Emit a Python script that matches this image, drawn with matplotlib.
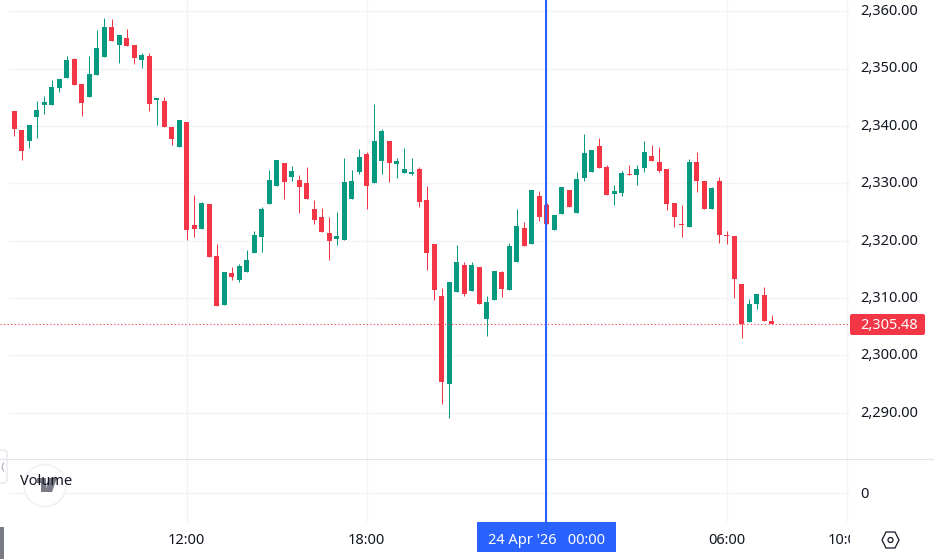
import matplotlib
matplotlib.use("Agg")
import matplotlib.pyplot as plt
from matplotlib.patches import Circle, FancyBboxPatch, Polygon, Rectangle

# 15 minute candles
opens = [2342.62, 2339.30, 2337.38, 2341.57, 2343.66, 2343.66, 2346.63, 2348.37, 2351.69, 2347.33,
         2345.06, 2348.90, 2352.03, 2357.27, 2354.13, 2355.35, 2354.13, 2351.51, 2352.21, 2344.53,
         2344.36, 2339.83, 2336.34, 2340.70, 2322.73, 2322.03, 2326.40, 2317.33, 2308.78, 2314.36,
         2313.14, 2314.53, 2317.85, 2320.64, 2326.40, 2329.53, 2333.55, 2331.10, 2330.58, 2330.06,
         2325.52, 2324.13, 2321.34, 2320.29, 2320.12, 2327.27, 2331.98, 2335.12, 2330.06, 2333.90,
         2337.38, 2333.37, 2331.80, 2331.63, 2332.50, 2327.09, 2319.42, 2310.35, 2295.00, 2311.05,
         2315.76, 2311.22, 2315.41, 2306.34, 2309.65, 2314.53, 2311.40, 2316.28, 2322.21, 2319.42,
         2327.79, 2326.22, 2321.86, 2324.65, 2328.84, 2324.83, 2330.93, 2331.98, 2336.51, 2332.85,
         2328.14, 2328.31, 2331.63, 2331.45, 2332.67, 2334.77, 2333.72, 2332.50, 2326.57, 2322.91,
         2322.38, 2333.72, 2330.41, 2325.52, 2330.41, 2320.99, 2320.81, 2312.44, 2305.81, 2308.95,
         2310.52, 2306.00]
closes = [2339.48, 2335.64, 2340.17, 2342.79, 2344.19, 2346.80, 2348.20, 2351.51, 2347.15, 2344.01,
          2349.07, 2353.60, 2357.27, 2354.83, 2355.87, 2353.95, 2351.86, 2352.38, 2343.84, 2344.88,
          2339.83, 2337.73, 2341.05, 2321.86, 2322.03, 2326.57, 2317.15, 2308.60, 2314.53, 2313.66,
          2315.58, 2316.63, 2320.99, 2325.52, 2330.58, 2334.07, 2330.23, 2332.15, 2329.36, 2327.27,
          2323.60, 2321.51, 2319.94, 2320.81, 2330.23, 2330.41, 2334.59, 2329.53, 2337.38, 2339.13,
          2333.55, 2333.90, 2332.50, 2331.98, 2326.74, 2317.85, 2311.40, 2295.35, 2312.79, 2316.28,
          2310.70, 2315.76, 2308.95, 2309.30, 2314.71, 2311.57, 2319.07, 2322.56, 2319.07, 2328.84,
          2324.13, 2322.91, 2324.48, 2329.36, 2325.87, 2330.76, 2335.29, 2335.81, 2332.67, 2327.97,
          2328.66, 2331.80, 2331.45, 2332.50, 2335.47, 2333.90, 2332.15, 2326.40, 2324.13, 2322.73,
          2333.72, 2330.41, 2325.52, 2329.19, 2320.99, 2320.81, 2313.31, 2305.47, 2308.95, 2310.70,
          2305.99, 2305.48]
highs = [2342.62, 2339.30, 2340.17, 2344.36, 2345.23, 2348.02, 2348.20, 2352.21, 2351.86, 2347.33,
         2352.21, 2356.74, 2358.84, 2358.66, 2355.87, 2356.92, 2354.13, 2352.73, 2352.73, 2344.88,
         2345.06, 2339.83, 2341.05, 2340.70, 2327.97, 2326.74, 2326.40, 2319.42, 2314.53, 2315.41,
         2315.93, 2318.37, 2321.69, 2325.87, 2332.33, 2334.07, 2333.55, 2333.02, 2331.45, 2332.85,
         2327.09, 2325.70, 2324.13, 2325.00, 2334.42, 2332.33, 2335.99, 2335.47, 2343.84, 2339.48,
         2337.38, 2334.42, 2336.16, 2334.42, 2332.85, 2329.53, 2319.42, 2311.74, 2312.79, 2319.24,
         2316.28, 2316.28, 2315.41, 2310.35, 2314.71, 2314.71, 2319.59, 2325.52, 2323.26, 2328.84,
         2328.66, 2326.57, 2324.48, 2329.36, 2328.84, 2331.98, 2338.60, 2335.81, 2337.91, 2333.20,
         2329.71, 2332.15, 2333.20, 2333.20, 2337.38, 2336.69, 2336.34, 2332.50, 2326.57, 2326.22,
         2334.24, 2335.47, 2330.41, 2329.36, 2331.10, 2321.69, 2320.81, 2312.44, 2309.83, 2310.70,
         2311.92, 2307.03]
lows = [2338.26, 2334.07, 2336.16, 2337.91, 2342.09, 2343.66, 2345.93, 2348.37, 2347.15, 2341.74,
        2345.06, 2348.90, 2352.03, 2354.83, 2350.99, 2353.95, 2350.81, 2350.12, 2342.62, 2340.17,
        2339.83, 2336.69, 2336.34, 2320.12, 2320.64, 2322.03, 2317.15, 2308.60, 2308.78, 2313.14,
        2312.79, 2314.53, 2317.85, 2318.02, 2326.40, 2329.53, 2327.27, 2330.41, 2324.83, 2327.27,
        2322.91, 2321.51, 2316.63, 2319.24, 2320.12, 2327.27, 2331.63, 2325.52, 2330.06, 2331.63,
        2330.23, 2330.93, 2331.80, 2331.45, 2325.87, 2314.88, 2309.65, 2291.51, 2289.07, 2311.05,
        2310.35, 2311.22, 2308.95, 2303.37, 2309.65, 2310.17, 2311.40, 2316.28, 2319.07, 2319.42,
        2323.43, 2322.91, 2321.86, 2324.65, 2325.87, 2324.83, 2330.41, 2331.98, 2332.67, 2327.97,
        2326.22, 2327.79, 2331.45, 2329.71, 2331.98, 2333.90, 2331.98, 2325.35, 2322.38, 2320.64,
        2322.38, 2328.49, 2325.52, 2325.52, 2319.59, 2319.42, 2310.00, 2303.02, 2305.81, 2308.08,
        2305.99, 2305.48]

price_ticks = [2290, 2300, 2310, 2320, 2330, 2340, 2350, 2360]
time_ticks = [23, 47, 71, 95, 111]
time_labels = ["12:00", "18:00", "", "06:00", "10:00"]
last_price = 2305.48
cursor_label = "24 Apr '26   00:00"

UP = "#089981"
DOWN = "#F23645"
GRID = "#F3F4F7"
LINE = "#E0E3EB"
TEXT = "#131722"
CURSOR = "#2962FF"

W, H = 934, 559
PANE_RIGHT = 850
MAIN_BOTTOM = 458
VOL_BOTTOM = 522
FIRST_X = 14.2  # pixel column of the first candle

plt.rcParams["font.family"] = ["Noto Sans", "DejaVu Sans"]
plt.rcParams["font.size"] = 10.5


def pane(top, bottom):
    # axes placed by pixel rows, all of them sharing the candle x scale
    ax = fig.add_axes([0, 1 - bottom / H, PANE_RIGHT / W, (bottom - top) / H])
    ax.set_xlim(-FIRST_X / 7.5, (PANE_RIGHT - FIRST_X) / 7.5)
    for side in ax.spines.values():
        side.set_visible(False)
    ax.tick_params(length=0)
    ax.set_xticks([])
    return ax


fig = plt.figure(figsize=(W / 100, H / 100), dpi=100, facecolor="white")

# price pane
ax = pane(0, MAIN_BOTTOM)
ax.set_ylim(2282.11, 2361.97)
ax.set_yticks(price_ticks)
ax.set_yticklabels([])
for p in price_ticks:
    ax.axhline(p, xmin=9 / PANE_RIGHT, color=GRID, lw=1, zorder=0)
    # tick labels sit a little above the grid row, so annotate instead of tick labels
    ax.annotate(f"{p:,.2f}", (1, p), xycoords=ax.get_yaxis_transform(), xytext=(7.2, 1.2),
                textcoords="offset points", va="center_baseline", ha="left", color=TEXT)

for i in range(len(opens)):
    color = UP if closes[i] >= opens[i] else DOWN
    ax.vlines(i, lows[i], highs[i], color=color, lw=0.72, zorder=2)
    ax.bar(i, max(abs(closes[i] - opens[i]), 0.17), bottom=min(opens[i], closes[i]),
           width=5 / 7.5, color=color, lw=0, zorder=3)

ax.axhline(last_price, color=DOWN, lw=0.8, ls=(0, (1, 2.2)), zorder=4)

# volume pane, nothing in it but the zero line
vol = pane(MAIN_BOTTOM, VOL_BOTTOM)
vol.set_ylim(-29, 35)
vol.yaxis.tick_right()
vol.set_yticks([0])
vol.set_yticklabels(["0"])
vol.tick_params(axis="y", pad=7.2, labelcolor=TEXT)
vol.axhline(0, xmin=9 / PANE_RIGHT, color=GRID, lw=1, zorder=0)

# time strip
strip = pane(VOL_BOTTOM, H)
strip.set_ylim(H, VOL_BOTTOM)
strip.axis("off")
for t, label in zip(time_ticks, time_labels):
    ax.axvline(t, color=GRID, lw=1, zorder=0)
    vol.axvline(t, color=GRID, lw=1, zorder=0)
    strip.text(t, 539, label, ha="center", va="center_baseline", color=TEXT, clip_on=True)

# everything else is pinned to pixels on a transparent overlay
over = fig.add_axes([0, 0, 1, 1], facecolor="none")
over.set_xlim(0, W)
over.set_ylim(H, 0)
over.axis("off")

over.plot([0, W], [458.5, 458.5], color=LINE, lw=0.8)

# crosshair
over.plot([546, 546], [0, 522], color=CURSOR, lw=1.45)
over.add_patch(Rectangle((477, 522), 139, 30, color=CURSOR, lw=0))
over.text(546.5, 539, cursor_label, ha="center", va="center_baseline", color="white", fontweight="medium")

# last price tag
over.add_patch(FancyBboxPatch((850, 314), 75, 21, boxstyle="round,pad=0,rounding_size=2",
                              color=DOWN, lw=0))
over.text(860, 323.5, f"{last_price:,.2f}", ha="left", va="center_baseline", color="white", fontweight="medium")

# collapse button, logo, legend
over.add_patch(FancyBboxPatch((-4, 450), 11, 33, boxstyle="round,pad=0,rounding_size=3",
                              fc="white", ec=LINE, lw=0.8))
over.plot([3.5, 2, 3.5], [463, 467, 471], color="#A8ABB5", lw=0.8)
over.add_patch(Circle((45, 485.5), 21, fc="white", ec="#F0F1F5", lw=1.2))
over.add_patch(Polygon([(37, 478), (46, 478), (46, 492), (41, 492), (41, 483), (37, 483)], color="#787B86", lw=0))
over.add_patch(Polygon([(49, 478), (57, 478), (52, 492), (45, 492)], color="#787B86", lw=0))
over.text(20, 479.5, "Volume", ha="left", va="center_baseline", color=TEXT)

# settings icon and the bit of sidebar in the corner
over.add_patch(Polygon([(882, 540), (886, 532), (895, 532), (899, 540), (895, 548), (886, 548)],
                       fc="white", ec=TEXT, lw=0.9))
over.add_patch(Circle((890.5, 540), 2.5, fc="white", ec=TEXT, lw=0.9))
over.add_patch(Rectangle((0, 527), 4, 32, color="#787B86", lw=0))

fig.savefig("out.png", dpi=100, facecolor="white")
